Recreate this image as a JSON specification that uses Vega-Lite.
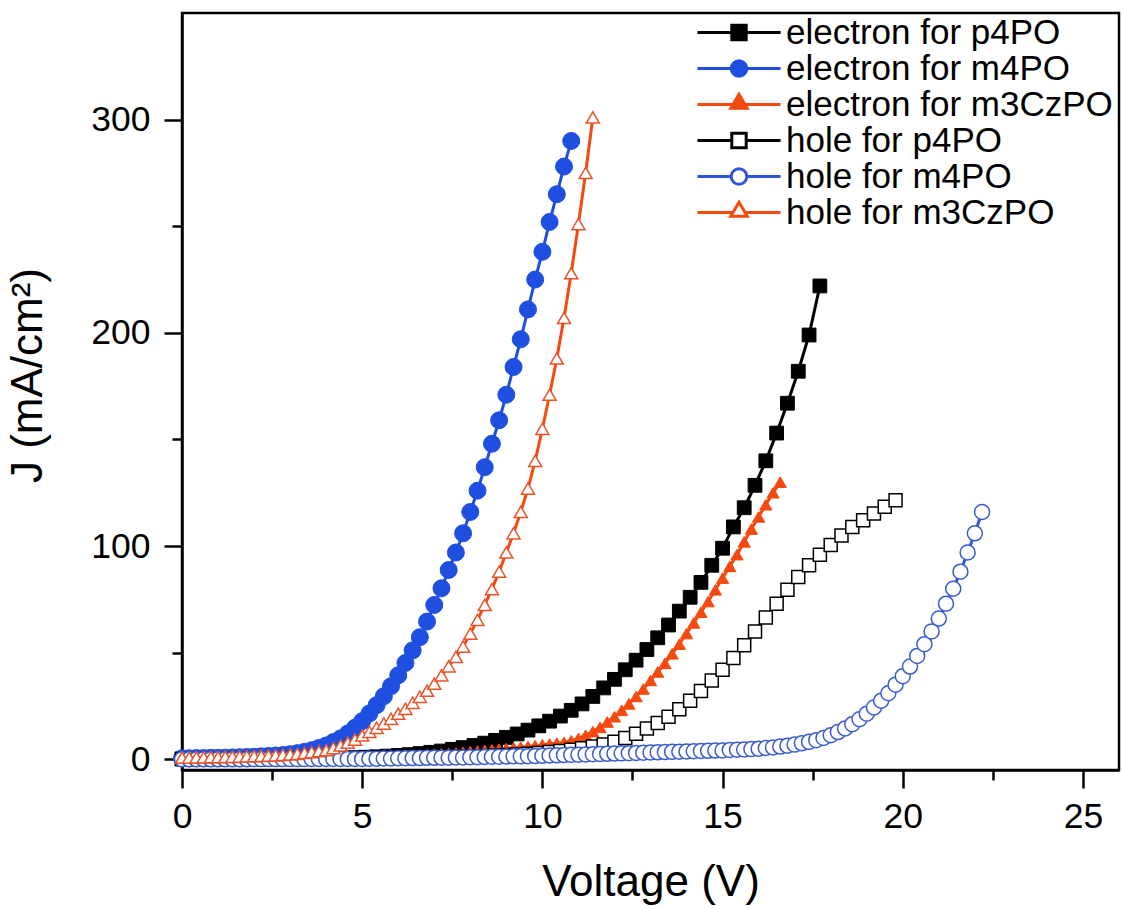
{
  "$schema": "https://vega.github.io/schema/vega-lite/v6.json",
  "width": 937,
  "height": 757,
  "autosize": {"type": "none"},
  "padding": {"left": 182, "top": 13, "right": 4, "bottom": 139},
  "background": "white",
  "config": {
    "view": {"stroke": "black", "strokeWidth": 2.5},
    "font": "Liberation Sans",
    "axis": {"grid": false, "domainColor": "black", "domainWidth": 2.5, "tickColor": "black", "tickWidth": 2.5, "labelFont": "Liberation Sans", "labelFontSize": 35.5, "labelColor": "black", "titleFont": "Liberation Sans", "titleFontSize": 44, "titleFontWeight": "normal", "titleColor": "black", "labelFlush": false, "labelOverlap": false}
  },
  "data": {"values": [
    {"s": "electron for p4PO",
     "v": [0,0.3,0.6,0.9,1.2,1.5,1.8,2.1,2.4,2.7,3.0,3.3,3.6,3.9,4.2,4.5,4.8,5.1,5.4,5.7,6.0,6.3,6.6,6.9,7.2,7.5,7.8,8.1,8.4,8.7,9.0,9.3,9.6,9.9,10.2,10.5,10.8,11.1,11.4,11.7,12.0,12.3,12.6,12.9,13.2,13.5,13.8,14.1,14.4,14.7,15.0,15.3,15.6,15.9,16.2,16.5,16.8,17.1,17.4,17.7],
     "j": [0.2,0.2,0.2,0.2,0.3,0.3,0.3,0.3,0.3,0.4,0.4,0.4,0.5,0.5,0.5,0.6,0.8,1.0,1.2,1.5,1.8,2.2,2.7,3.3,3.9,4.7,5.5,6.5,7.6,8.9,10.3,11.9,13.7,15.7,17.9,20.3,23,26,29.5,33.5,37.5,42,46.5,51.5,57,63,69.5,76,83,91,99,109,118,128.5,140,153,167,182,199,222]},
    {"s": "electron for m4PO",
     "v": [0,0.2,0.4,0.6,0.8,1.0,1.2,1.4,1.6,1.8,2.0,2.2,2.4,2.6,2.8,3.0,3.2,3.4,3.6,3.8,4.0,4.2,4.4,4.6,4.8,5.0,5.2,5.4,5.6,5.8,6.0,6.2,6.4,6.6,6.8,7.0,7.2,7.4,7.6,7.8,8.0,8.2,8.4,8.6,8.8,9.0,9.2,9.4,9.6,9.8,10.0,10.2,10.4,10.6,10.8],
     "j": [0.5,0.5,0.6,0.6,0.7,0.7,0.8,0.9,1.0,1.1,1.2,1.4,1.6,1.8,2.0,2.4,2.9,3.5,4.3,5.3,6.5,8.1,9.8,12.1,14.8,17.9,21.5,25.4,29.6,34.3,39.4,45.2,51.1,57.3,64.6,72.4,80.2,88.8,97,106,116,126,137,148,159,171,184,197,211,225,238,252,265,278,290]},
    {"s": "electron for m3CzPO",
     "v": [0,0.2,0.4,0.6,0.8,1.0,1.2,1.4,1.6,1.8,2.0,2.2,2.4,2.6,2.8,3.0,3.2,3.4,3.6,3.8,4.0,4.2,4.4,4.6,4.8,5.0,5.2,5.4,5.6,5.8,6.0,6.2,6.4,6.6,6.8,7.0,7.2,7.4,7.6,7.8,8.0,8.2,8.4,8.6,8.8,9.0,9.2,9.4,9.6,9.8,10.0,10.2,10.4,10.6,10.8,11.0,11.2,11.4,11.6,11.8,12.0,12.2,12.4,12.6,12.8,13.0,13.2,13.4,13.6,13.8,14.0,14.2,14.4,14.6,14.8,15.0,15.2,15.4,15.6,15.8,16.0,16.2,16.4,16.6],
     "j": [0.2,0.2,0.2,0.2,0.3,0.3,0.3,0.3,0.3,0.4,0.4,0.4,0.4,0.5,0.5,0.5,0.6,0.6,0.7,0.7,0.8,0.8,0.9,1.0,1.0,1.1,1.2,1.3,1.4,1.5,1.6,1.7,1.9,2.0,2.2,2.4,2.6,2.8,3.0,3.3,3.6,3.9,4.2,4.5,4.8,5.1,5.4,5.7,6.0,6.4,6.8,7.2,7.6,8.0,8.7,9.8,11.3,13,15,17.5,20,23,26,29.5,33,37,41,45,49.5,54,59,64,69,74,79.5,85,90.5,96,102,108,113.7,119.4,125,130]},
    {"s": "hole for p4PO",
     "v": [0,0.3,0.6,0.9,1.2,1.5,1.8,2.1,2.4,2.7,3.0,3.3,3.6,3.9,4.2,4.5,4.8,5.1,5.4,5.7,6.0,6.3,6.6,6.9,7.2,7.5,7.8,8.1,8.4,8.7,9.0,9.3,9.6,9.9,10.2,10.5,10.8,11.1,11.4,11.7,12.0,12.3,12.6,12.9,13.2,13.5,13.8,14.1,14.4,14.7,15.0,15.3,15.6,15.9,16.2,16.5,16.8,17.1,17.4,17.7,18.0,18.3,18.6,18.9,19.2,19.5,19.8],
     "j": [0.1,0.1,0.1,0.1,0.1,0.2,0.2,0.2,0.2,0.2,0.3,0.3,0.3,0.3,0.4,0.4,0.4,0.5,0.5,0.6,0.6,0.7,0.8,0.9,1.0,1.1,1.2,1.4,1.6,1.8,2.0,2.3,2.6,3.0,3.4,3.9,4.5,5.2,6.0,7.0,8.3,10,12,14.5,17,20,23.5,27.5,32,37,42,47.5,53.5,60,66.5,73,79.5,85.5,91,96,100.5,105,109,112.1,115.3,118.4,121.5]},
    {"s": "hole for m4PO",
     "v": [0,0.2,0.4,0.6,0.8,1.0,1.2,1.4,1.6,1.8,2.0,2.2,2.4,2.6,2.8,3.0,3.2,3.4,3.6,3.8,4.0,4.2,4.4,4.6,4.8,5.0,5.2,5.4,5.6,5.8,6.0,6.2,6.4,6.6,6.8,7.0,7.2,7.4,7.6,7.8,8.0,8.2,8.4,8.6,8.8,9.0,9.2,9.4,9.6,9.8,10.0,10.2,10.4,10.6,10.8,11.0,11.2,11.4,11.6,11.8,12.0,12.2,12.4,12.6,12.8,13.0,13.2,13.4,13.6,13.8,14.0,14.2,14.4,14.6,14.8,15.0,15.2,15.4,15.6,15.8,16.0,16.2,16.4,16.6,16.8,17.0,17.2,17.4,17.6,17.8,18.0,18.2,18.4,18.6,18.8,19.0,19.2,19.4,19.6,19.8,20.0,20.2,20.4,20.6,20.8,21.0,21.2,21.4,21.6,21.8,22.0,22.2],
     "j": [0,0,0,0,0,0,0,0,0,0,0.1,0.1,0.1,0.1,0.1,0.1,0.1,0.1,0.2,0.2,0.2,0.2,0.2,0.2,0.2,0.2,0.3,0.3,0.4,0.4,0.5,0.5,0.6,0.6,0.7,0.7,0.8,0.8,0.9,0.9,1.0,1.0,1.1,1.2,1.2,1.3,1.4,1.4,1.5,1.6,1.7,1.8,1.9,2.0,2.1,2.2,2.3,2.4,2.5,2.6,2.7,2.8,2.9,3.0,3.1,3.2,3.3,3.4,3.5,3.6,3.7,3.8,3.9,4.0,4.1,4.2,4.4,4.5,4.6,4.8,5.0,5.3,5.6,6.0,6.4,6.9,7.5,8.2,9.0,10.0,11.3,12.8,14.5,16.5,18.8,21.4,24.3,27.5,31,35,39,43.5,48.5,54,60,66,73,80,88,97,106,116]},
    {"s": "hole for m3CzPO",
     "v": [0,0.2,0.4,0.6,0.8,1.0,1.2,1.4,1.6,1.8,2.0,2.2,2.4,2.6,2.8,3.0,3.2,3.4,3.6,3.8,4.0,4.2,4.4,4.6,4.8,5.0,5.2,5.4,5.6,5.8,6.0,6.2,6.4,6.6,6.8,7.0,7.2,7.4,7.6,7.8,8.0,8.2,8.4,8.6,8.8,9.0,9.2,9.4,9.6,9.8,10.0,10.2,10.4,10.6,10.8,11.0,11.2,11.4],
     "j": [0.8,0.8,0.9,0.9,1.0,1.0,1.1,1.2,1.3,1.4,1.5,1.6,1.7,1.9,2.1,2.3,2.6,3.0,3.4,3.8,4.3,5.3,6.5,7.8,9.3,11.2,12.9,14.8,16.8,19.0,21.4,23.7,26.5,29.3,32.2,35.5,39.4,43.6,48.0,52.9,58.9,65.4,72.4,79.8,88,97,106,116,127,140,155,171,188,207,228,251,275,301]}
  ]},
  "transform": [{"flatten": ["v", "j"]}],
  "encoding": {
    "x": {"field": "v", "type": "quantitative", "scale": {"domain": [0, 26], "nice": false, "zero": false},
      "axis": {"title": "Voltage (V)", "values": [0,2.5,5,7.5,10,12.5,15,17.5,20,22.5,25], "labelExpr": "datum.value % 5 === 0 ? datum.label : ''",
        "tickSize": {"condition": {"test": "datum.value % 5 === 0", "value": 18}, "value": 10}, "labelPadding": 11, "titlePadding": 26}},
    "y": {"field": "j", "type": "quantitative", "scale": {"domain": [-5, 350], "nice": false, "zero": false},
      "axis": {"title": "J (mA/cm²)", "values": [0,50,100,150,200,250,300], "labelExpr": "datum.value % 100 === 0 ? datum.label : ''",
        "tickSize": {"condition": {"test": "datum.value % 100 === 0", "value": 18}, "value": 10}, "labelPadding": 14, "titlePadding": 40, "titleY": 362}}
  },
  "resolve": {"scale": {"stroke": "independent", "fill": "independent", "shape": "independent"}},
  "layer": [
    {"mark": {"type": "line", "strokeWidth": 3},
     "encoding": {
       "color": {"field": "s", "type": "nominal", "legend": null,
         "scale": {"range": ["#F5490F","#1F4FE0","#000000","#F5490F","#2F55DD","#000000"]}}}},
    {"mark": {"type": "point", "filled": true, "opacity": 1, "fillOpacity": 1, "strokeOpacity": 1},
     "encoding": {
       "stroke": {"field": "s", "type": "nominal", "legend": null,
         "scale": {"range": ["#F5490F","#1F4FE0","#000000","#E8542A","#3A5BD0","#000000"]}},
       "fill": {"field": "s", "type": "nominal", "legend": null,
         "scale": {"range": ["#F5490F","#1F4FE0","#000000","#FFFFFF","#FFFFFF","#FFFFFF"]}},
       "shape": {"field": "s", "type": "nominal", "legend": null,
         "scale": {"range": ["triangle-up","circle","square","triangle-up","circle","square"]}},
       "size": {"field": "s", "type": "nominal", "legend": null,
         "scale": {"type": "ordinal", "range": [150, 289, 190, 169, 225, 169]}},
       "strokeWidth": {"field": "s", "type": "nominal", "legend": null,
         "scale": {"type": "ordinal", "range": [1, 1, 1, 1.5, 1.5, 1.5]}}
     }},
    {"transform": [{"filter": "datum.j > 100000"}],
     "mark": {"type": "point", "filled": true, "opacity": 1, "fillOpacity": 1, "strokeOpacity": 1},
     "encoding": {
       "stroke": {"field": "s", "type": "nominal", "title": null,
         "scale": {"domain": ["electron for p4PO","electron for m4PO","electron for m3CzPO","hole for p4PO","hole for m4PO","hole for m3CzPO"],
                   "range": ["#000000","#1F4FE0","#F5490F","#000000","#2F55DD","#F5490F"]},
         "legend": {"orient": "none", "legendX": 539.5, "legendY": 2, "padding": 0, "labelFont": "Liberation Sans", "labelFontSize": 35, "labelColor": "black", "labelLimit": 500, "symbolSize": 900, "symbolStrokeWidth": 3, "labelOffset": 29.5, "rowPadding": -3.4}},
       "fill": {"field": "s", "type": "nominal", "title": null,
         "scale": {"domain": ["electron for p4PO","electron for m4PO","electron for m3CzPO","hole for p4PO","hole for m4PO","hole for m3CzPO"],
                   "range": ["#000000","#1F4FE0","#F5490F","#FFFFFF","#FFFFFF","#FFFFFF"]},
         "legend": {"orient": "none", "legendX": 539.5, "legendY": 2, "padding": 0, "labelFont": "Liberation Sans", "labelFontSize": 35, "labelColor": "black", "labelLimit": 500, "symbolSize": 900, "symbolStrokeWidth": 3, "labelOffset": 29.5, "rowPadding": -3.4}},
       "shape": {"field": "s", "type": "nominal", "title": null,
         "scale": {"domain": ["electron for p4PO","electron for m4PO","electron for m3CzPO","hole for p4PO","hole for m4PO","hole for m3CzPO"],
                   "range": ["M-2.77,0H-0.48M0.48,0H2.77M-0.48,-0.48H0.48V0.48H-0.48Z",
                             "M-2.77,0H-0.52M0.52,0H2.77M0.52,0A0.52,0.52 0 1,1 -0.52,0A0.52,0.52 0 1,1 0.52,0Z",
                             "M-2.77,0H-0.42M0.42,0H2.77M0,-0.68L0.55,0.25L-0.55,0.25Z",
                             "M-2.77,0H-0.48M0.48,0H2.77M-0.48,-0.48H0.48V0.48H-0.48Z",
                             "M-2.77,0H-0.52M0.52,0H2.77M0.52,0A0.52,0.52 0 1,1 -0.52,0A0.52,0.52 0 1,1 0.52,0Z",
                             "M-2.77,0H-0.42M0.42,0H2.77M0,-0.68L0.55,0.25L-0.55,0.25Z"]},
         "legend": {"orient": "none", "legendX": 539.5, "legendY": 2, "padding": 0, "labelFont": "Liberation Sans", "labelFontSize": 35, "labelColor": "black", "labelLimit": 500, "symbolSize": 900, "symbolStrokeWidth": 3, "labelOffset": 29.5, "rowPadding": -3.4}}
     }}
  ]
}
